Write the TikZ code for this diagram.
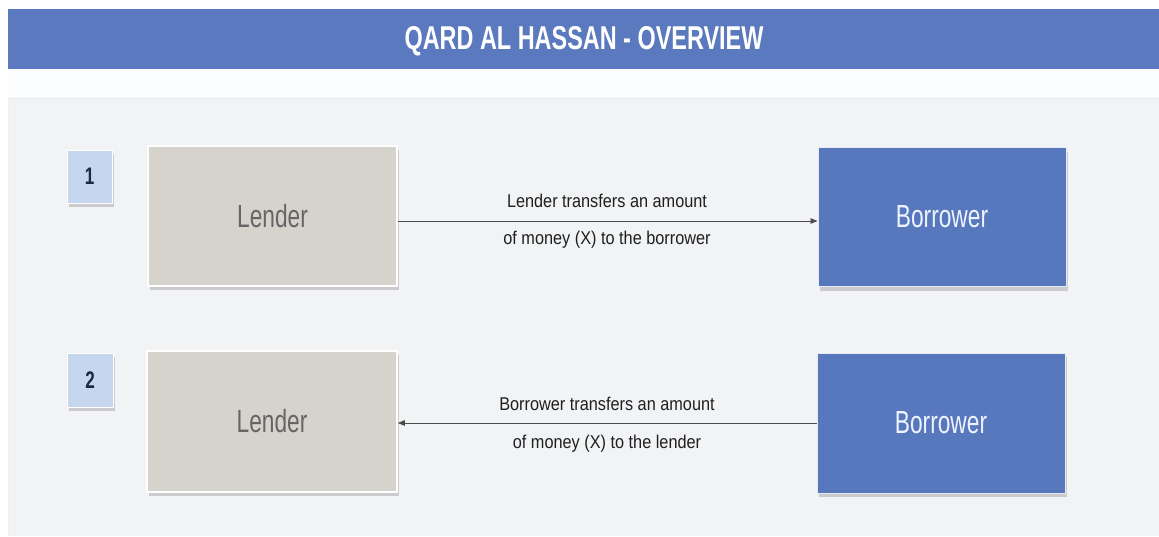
\documentclass[tikz,border=0pt]{standalone}
\usepackage{fontspec}
\setmainfont{Liberation Sans}
\newfontfamily\narrowfont[FakeStretch=0.71]{Liberation Sans}
\newfontfamily\labelfont[FakeStretch=0.88]{Liberation Sans}
\usetikzlibrary{shadows,arrows.meta}

\definecolor{barblue}{HTML}{5A79BE}
\definecolor{boxblue}{HTML}{5878BD}
\definecolor{boxgrey}{HTML}{D6D3CD}
\definecolor{badgeblue}{HTML}{C6D6EE}
\definecolor{panelgrey}{HTML}{F2F3F5}
\definecolor{bandwhite}{HTML}{FBFCFD}
\definecolor{lendertext}{HTML}{666666}
\definecolor{borrowertext}{HTML}{EEF3FF}
\definecolor{badgetext}{HTML}{1E2840}

\tikzset{
  softshadow/.style={drop shadow={shadow xshift=1.5pt, shadow yshift=-4pt, opacity=0.16, fill=black}},
  lenderbox/.style={rectangle, fill=boxgrey, draw=white, line width=1.5pt,
    minimum width=249pt, minimum height=140pt, softshadow,
    text=lendertext, font=\narrowfont\fontsize{32}{36}\selectfont},
  borrowerbox/.style={rectangle, fill=boxblue, draw=white!85!boxblue, line width=1pt,
    minimum width=248pt, minimum height=139pt, softshadow,
    text=borrowertext, font=\narrowfont\fontsize{32}{36}\selectfont},
  badge/.style={rectangle, fill=badgeblue, draw=white, line width=1pt,
    minimum width=45pt, minimum height=53pt, softshadow,
    text=badgetext, font=\narrowfont\bfseries\fontsize{24}{26}\selectfont},
  flowlabel/.style={anchor=base, inner sep=0pt, text=black!88,
    font=\labelfont\fontsize{18.5}{20}\selectfont},
  flow/.style={draw=black!70, line width=0.8pt,
    -{Triangle[length=7pt,width=5.5pt]}},
}

\begin{document}
\begin{tikzpicture}[x=1pt,y=-1pt]
  \useasboundingbox (0,0) rectangle (1159,536);
  \fill[white] (0,0) rectangle (1159,536);

  % header bar and title
  \fill[bandwhite] (8,69) rectangle (1159,98);
  \fill[barblue] (8,9) rectangle (1159,69);
  \node[text=white, font=\narrowfont\bfseries\fontsize{33}{36}\selectfont] (title)
    at (584,41) {QARD AL HASSAN - OVERVIEW};

  % content panel
  \fill[panelgrey] (8,98) rectangle (1159,536);
  \draw[black!8, line width=1.5pt] (8,98.5) -- (1159,98.5);
  \draw[black!6, line width=1pt] (8.5,98) -- (8.5,536);

  % step 1: lender pays borrower
  \node[badge] (badge1) at (89.5,176.5) {1};
  \node[lenderbox] (lender1) at (272.5,216) {Lender};
  \node[borrowerbox] (borrower1) at (942,217) {Borrower};
  \coordinate (out1) at ([yshift=-5pt]lender1.east);
  \draw[flow] (out1) -- (out1 -| borrower1.west);
  \node[flowlabel] (l1a) at (607,207) {Lender transfers an amount};
  \node[flowlabel] (l1b) at (607,244) {of money (X) to the borrower};

  % step 2: borrower repays lender
  \node[badge, minimum width=46pt, minimum height=54pt] (badge2) at (90,380) {2};
  \node[lenderbox, minimum width=250pt, minimum height=141pt] (lender2) at (272,421.5) {Lender};
  \node[borrowerbox, minimum height=140pt] (borrower2) at (941,423) {Borrower};
  \draw[flow] (borrower2.west) -- (borrower2.west -| lender2.east);
  \node[flowlabel] (l2a) at (607,410) {Borrower transfers an amount};
  \node[flowlabel] (l2b) at (607,448) {of money (X) to the lender};
\end{tikzpicture}
\end{document}
